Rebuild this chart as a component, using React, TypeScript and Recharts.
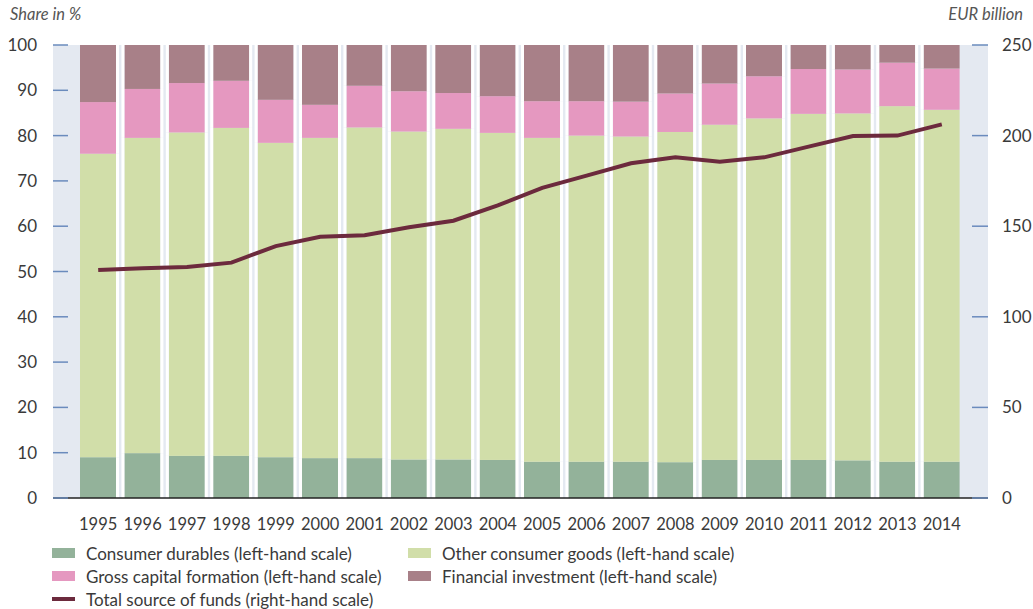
import React from 'react'
import {
  ComposedChart,
  Bar,
  Line,
  XAxis,
  YAxis,
  CartesianGrid,
} from 'recharts'

const YEARS = ['1995', '1996', '1997', '1998', '1999', '2000', '2001', '2002', '2003', '2004',
  '2005', '2006', '2007', '2008', '2009', '2010', '2011', '2012', '2013', '2014']

// shares in %
const DURABLES = [9.0, 9.9, 9.3, 9.3, 9.0, 8.8, 8.8, 8.5, 8.5, 8.4,
  8.0, 8.0, 8.0, 7.9, 8.4, 8.4, 8.4, 8.3, 8.0, 8.0]
const OTHER_GOODS = [67.0, 69.6, 71.4, 72.4, 69.4, 70.7, 73.0, 72.4, 73.0, 72.2,
  71.5, 72.0, 71.8, 72.9, 74.0, 75.4, 76.4, 76.6, 78.5, 77.7]
const CAPITAL = [11.4, 10.8, 10.9, 10.4, 9.5, 7.3, 9.2, 8.9, 7.9, 8.1,
  8.1, 7.6, 7.7, 8.5, 9.1, 9.3, 9.9, 9.7, 9.6, 9.1]
const FINANCIAL = [12.6, 9.7, 8.4, 7.9, 12.1, 13.2, 9.0, 10.2, 10.6, 11.3,
  12.4, 12.4, 12.5, 10.7, 8.5, 6.9, 5.3, 5.4, 3.9, 5.2]
// EUR billion
const TOTAL_FUNDS = [125.8, 126.8, 127.5, 129.9, 139.0, 144.2, 145.0, 149.4, 153.0, 161.5,
  171.2, 177.9, 184.7, 188.0, 185.6, 188.0, 193.9, 199.8, 200.0, 206.2]

const LEFT_TICKS = [0, 10, 20, 30, 40, 50, 60, 70, 80, 90, 100]
const RIGHT_TICKS = [0, 50, 100, 150, 200, 250]

const C_DURABLES = '#93b29a'
const C_OTHER = '#d1dea9'
const C_CAPITAL = '#e598c0'
const C_FINANCIAL = '#a88088'
const C_LINE = '#6c2a3d'
const C_BG = '#e4e9f1'
const C_TICK = '#6a8bbd'
const C_TEXT = '#3a3a3a'
const FONT = 'Lato, "Open Sans", sans-serif'

const data = YEARS.map((year, i) => ({
  year,
  durables: DURABLES[i],
  other: OTHER_GOODS[i],
  capital: CAPITAL[i],
  financial: FINANCIAL[i],
  total: TOTAL_FUNDS[i],
}))

const GAP = 3

function Segment(props: any) {
  const { x, y, width, height, fill, index } = props
  if (height == null || height <= 0) return null
  return (
    <g>
      <rect x={x} y={y} width={width} height={height} fill={fill} />
      {index > 0 && <rect x={x - GAP} y={y} width={GAP} height={height} fill="#fff" />}
      {index < YEARS.length - 1 && <rect x={x + width} y={y} width={GAP} height={height} fill="#fff" />}
    </g>
  )
}

// left axis: tick text sits at x, plot edge is at x + 21
function LeftTick(props: any) {
  const { x, y, payload } = props
  return (
    <g>
      <line x1={x + 21} x2={x + 36} y1={y} y2={y} stroke={C_TICK} strokeWidth={1.5} />
      <text x={x + 5} y={y} dy={6} textAnchor="end" fill={C_TEXT} fontSize={17} fontFamily={FONT}>
        {payload.value}
      </text>
    </g>
  )
}

// right axis: plot edge is at x - 18
function RightTick(props: any) {
  const { x, y, payload } = props
  return (
    <g>
      <line x1={x - 34} x2={x - 18} y1={y} y2={y} stroke={C_TICK} strokeWidth={1.5} />
      <text x={x - 4} y={y} dy={6} textAnchor="start" fill={C_TEXT} fontSize={17} fontFamily={FONT}>
        {payload.value}
      </text>
    </g>
  )
}

const LEGEND = [
  { label: 'Consumer durables (left-hand scale)', color: C_DURABLES, kind: 'box' },
  { label: 'Other consumer goods (left-hand scale)', color: C_OTHER, kind: 'box' },
  { label: 'Gross capital formation (left-hand scale)', color: C_CAPITAL, kind: 'box' },
  { label: 'Financial investment (left-hand scale)', color: C_FINANCIAL, kind: 'box' },
  { label: 'Total source of funds (right-hand scale)', color: C_LINE, kind: 'line' },
]

export default function App() {
  return (
    <div style={{ position: 'absolute', left: 0, top: 0, width: 1033, height: 609, background: '#fff', fontFamily: FONT }}>
      <div style={{ position: 'absolute', left: 10, top: 4, fontSize: 16.5, fontStyle: 'italic', color: '#555' }}>Share in %</div>
      <div style={{ position: 'absolute', right: 10, top: 4, fontSize: 16.5, fontStyle: 'italic', color: '#555' }}>EUR billion</div>
      <ComposedChart
        width={1033}
        height={609}
        data={data}
        margin={{ top: 45, right: 0, bottom: 81, left: 0 }}
        barSize={36}
      >
        <CartesianGrid fill={C_BG} horizontal={false} vertical={false} />
        <XAxis
          dataKey="year"
          padding={{ left: 23, right: 24 }}
          tickLine={false}
          axisLine={{ stroke: '#222', strokeWidth: 1.5 }}
          tick={{ fill: C_TEXT, fontSize: 16.5, fontFamily: FONT }}
          tickMargin={14}
          height={30}
          interval={0}
        />
        <YAxis
          yAxisId="left"
          domain={[0, 100]}
          ticks={LEFT_TICKS}
          width={53}
          axisLine={false}
          tickLine={false}
          tickMargin={15}
          tick={<LeftTick />}
          interval={0}
        />
        <YAxis
          yAxisId="right"
          orientation="right"
          domain={[0, 250]}
          ticks={RIGHT_TICKS}
          width={45}
          axisLine={false}
          tickLine={false}
          tickMargin={12}
          tick={<RightTick />}
          interval={0}
        />
        <Bar yAxisId="left" dataKey="durables" stackId="s" fill={C_DURABLES} shape={<Segment />} isAnimationActive={false} />
        <Bar yAxisId="left" dataKey="other" stackId="s" fill={C_OTHER} shape={<Segment />} isAnimationActive={false} />
        <Bar yAxisId="left" dataKey="capital" stackId="s" fill={C_CAPITAL} shape={<Segment />} isAnimationActive={false} />
        <Bar yAxisId="left" dataKey="financial" stackId="s" fill={C_FINANCIAL} shape={<Segment />} isAnimationActive={false} />
        <Line
          yAxisId="right"
          dataKey="total"
          stroke={C_LINE}
          strokeWidth={4}
          dot={false}
          activeDot={false}
          isAnimationActive={false}
        />
      </ComposedChart>
      <div style={{ position: 'absolute', left: 52, top: 543, display: 'grid', gridTemplateColumns: '356px 400px', rowGap: 3, fontSize: 17, color: C_TEXT }}>
        {LEGEND.map((item) => (
          <div key={item.label} style={{ display: 'flex', alignItems: 'center', height: 20, whiteSpace: 'nowrap' }}>
            <span
              style={{
                display: 'inline-block',
                width: 23,
                height: item.kind === 'line' ? 4 : 10,
                background: item.color,
                marginRight: 11,
                flexShrink: 0,
              }}
            />
            {item.label}
          </div>
        ))}
      </div>
    </div>
  )
}
